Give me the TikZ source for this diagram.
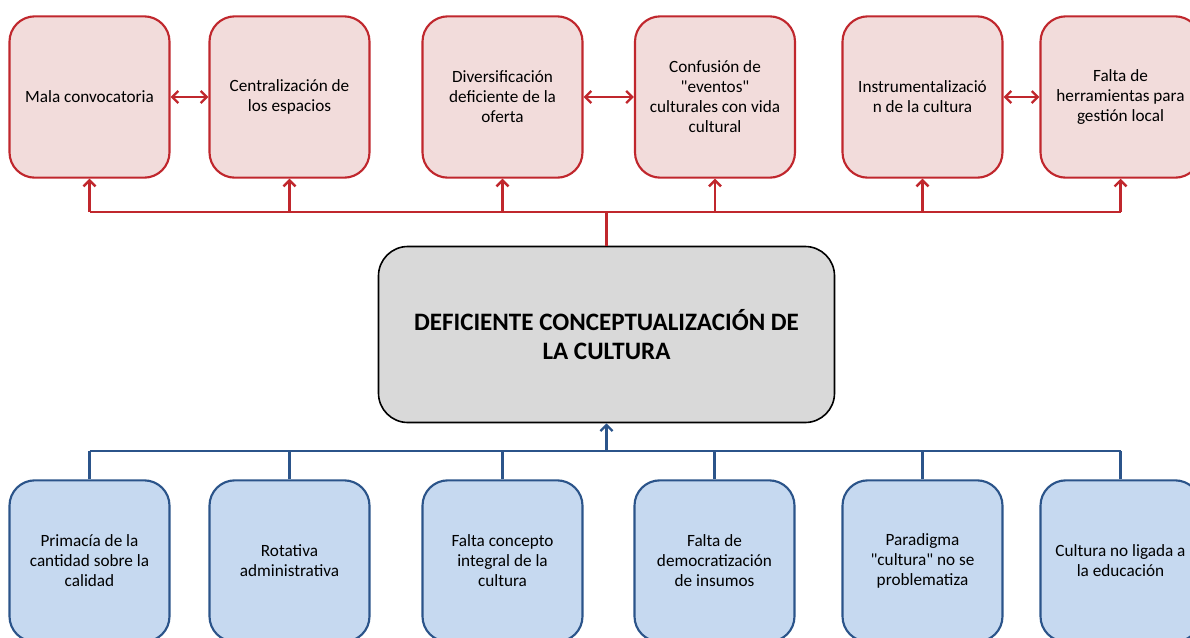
\documentclass[tikz,border=0pt]{standalone}
\usepackage{fontspec}
\setmainfont{Carlito}
\usepackage{tikz}
\usetikzlibrary{arrows.meta, positioning, calc}
\usepackage{xcolor}
\definecolor{efred}{RGB}{192,39,45}
\definecolor{efpink}{RGB}{242,220,219}
\definecolor{cablue}{RGB}{43,84,138}
\definecolor{calight}{RGB}{198,217,240}
\definecolor{coregray}{RGB}{217,217,217}

\begin{document}
\begin{tikzpicture}[
    x=0.75pt, y=-0.75pt,
    effect/.style = {rectangle, draw=efred, fill=efpink, line width=1.6pt, rounded corners=19pt, align=center, font=\fontsize{12.9}{15}\selectfont, minimum width=120pt, minimum height=121pt, inner sep=2pt},
    cause/.style = {rectangle, draw=cablue, fill=calight, line width=1.6pt, rounded corners=19pt, align=center, font=\fontsize{12.9}{15}\selectfont, minimum width=120pt, minimum height=121pt, inner sep=2pt},
    coreblock/.style = {rectangle, draw=black, fill=coregray, line width=1.2pt, rounded corners=22pt, align=center, font=\fontsize{18.8}{22}\selectfont\bfseries, minimum width=342pt, minimum height=132pt},
    redline/.style = {draw=efred, line width=1.8pt},
    redarrow/.style = {draw=efred, line width=1.8pt, -{Straight Barb[length=4.5pt,width=9pt]}},
    pairarrow/.style = {draw=efred, line width=1.8pt, {Straight Barb[length=4.5pt,width=9pt]}-{Straight Barb[length=4.5pt,width=9pt]}},
    blueline/.style = {draw=cablue, line width=1.8pt},
    bluearrow/.style = {draw=cablue, line width=1.8pt, -{Straight Barb[length=4.5pt,width=9pt]}}
]
\useasboundingbox (0,0) rectangle (1190,637);

% Centre
\node (core) [coreblock] at (606.5,334.5) {DEFICIENTE CONCEPTUALIZACI\'ON DE\\LA CULTURA};

% Top row (effects)
\node (e1) [effect] at (89.5,97) {Mala convocatoria};
\node (e2) [effect] at (289.5,97) {Centralizaci\'on de\\los espacios};
\node (e3) [effect] at (502.5,97) {Diversificaci\'on\\deficiente de la\\oferta};
\node (e4) [effect] at (715,97) {Confusi\'on de\\\textquotedbl eventos\textquotedbl\\culturales con vida\\cultural};
\node (e5) [effect] at (922.5,97) {Instrumentalizaci\'o\\n de la cultura};
\node (e6) [effect] at (1120.5,97) {Falta de\\herramientas para\\gesti\'on local};

% Bottom row (causes)
\node (c1) [cause] at (89.5,561) {Primac\'ia de la\\cantidad sobre la\\calidad};
\node (c2) [cause] at (289.5,561) {Rotativa\\administrativa};
\node (c3) [cause] at (502.5,561) {Falta concepto\\integral de la\\cultura};
\node (c4) [cause] at (714.5,561) {Falta de\\democratizaci\'on\\de insumos};
\node (c5) [cause] at (922.5,561) {Paradigma\\\textquotedbl cultura\textquotedbl{} no se\\problematiza};
\node (c6) [cause] at (1120.5,561) {Cultura no ligada a\\la educaci\'on};

% Buses
\coordinate (topbus) at (606.5,212);
\coordinate (botbus) at (606.5,451);

% Arrows (top)
\draw [redline] (core.north) -- (topbus);
\draw [redline] (topbus -| e1) -- (topbus -| e6);
\foreach \e in {e1,e2,e3,e4,e5,e6}
    \draw [redarrow] (topbus -| \e) -- (\e.south);
\draw [pairarrow] (e1) -- (e2);
\draw [pairarrow] (e3) -- (e4);
\draw [pairarrow] (e5) -- (e6);

% Arrows (bottom)
\draw [bluearrow] (botbus) -- (core.south);
\draw [blueline] (botbus -| c1) -- (botbus -| c6);
\foreach \c in {c1,c2,c3,c4,c5,c6}
    \draw [blueline] (\c.north) -- (botbus -| \c);

\end{tikzpicture}
\end{document}
